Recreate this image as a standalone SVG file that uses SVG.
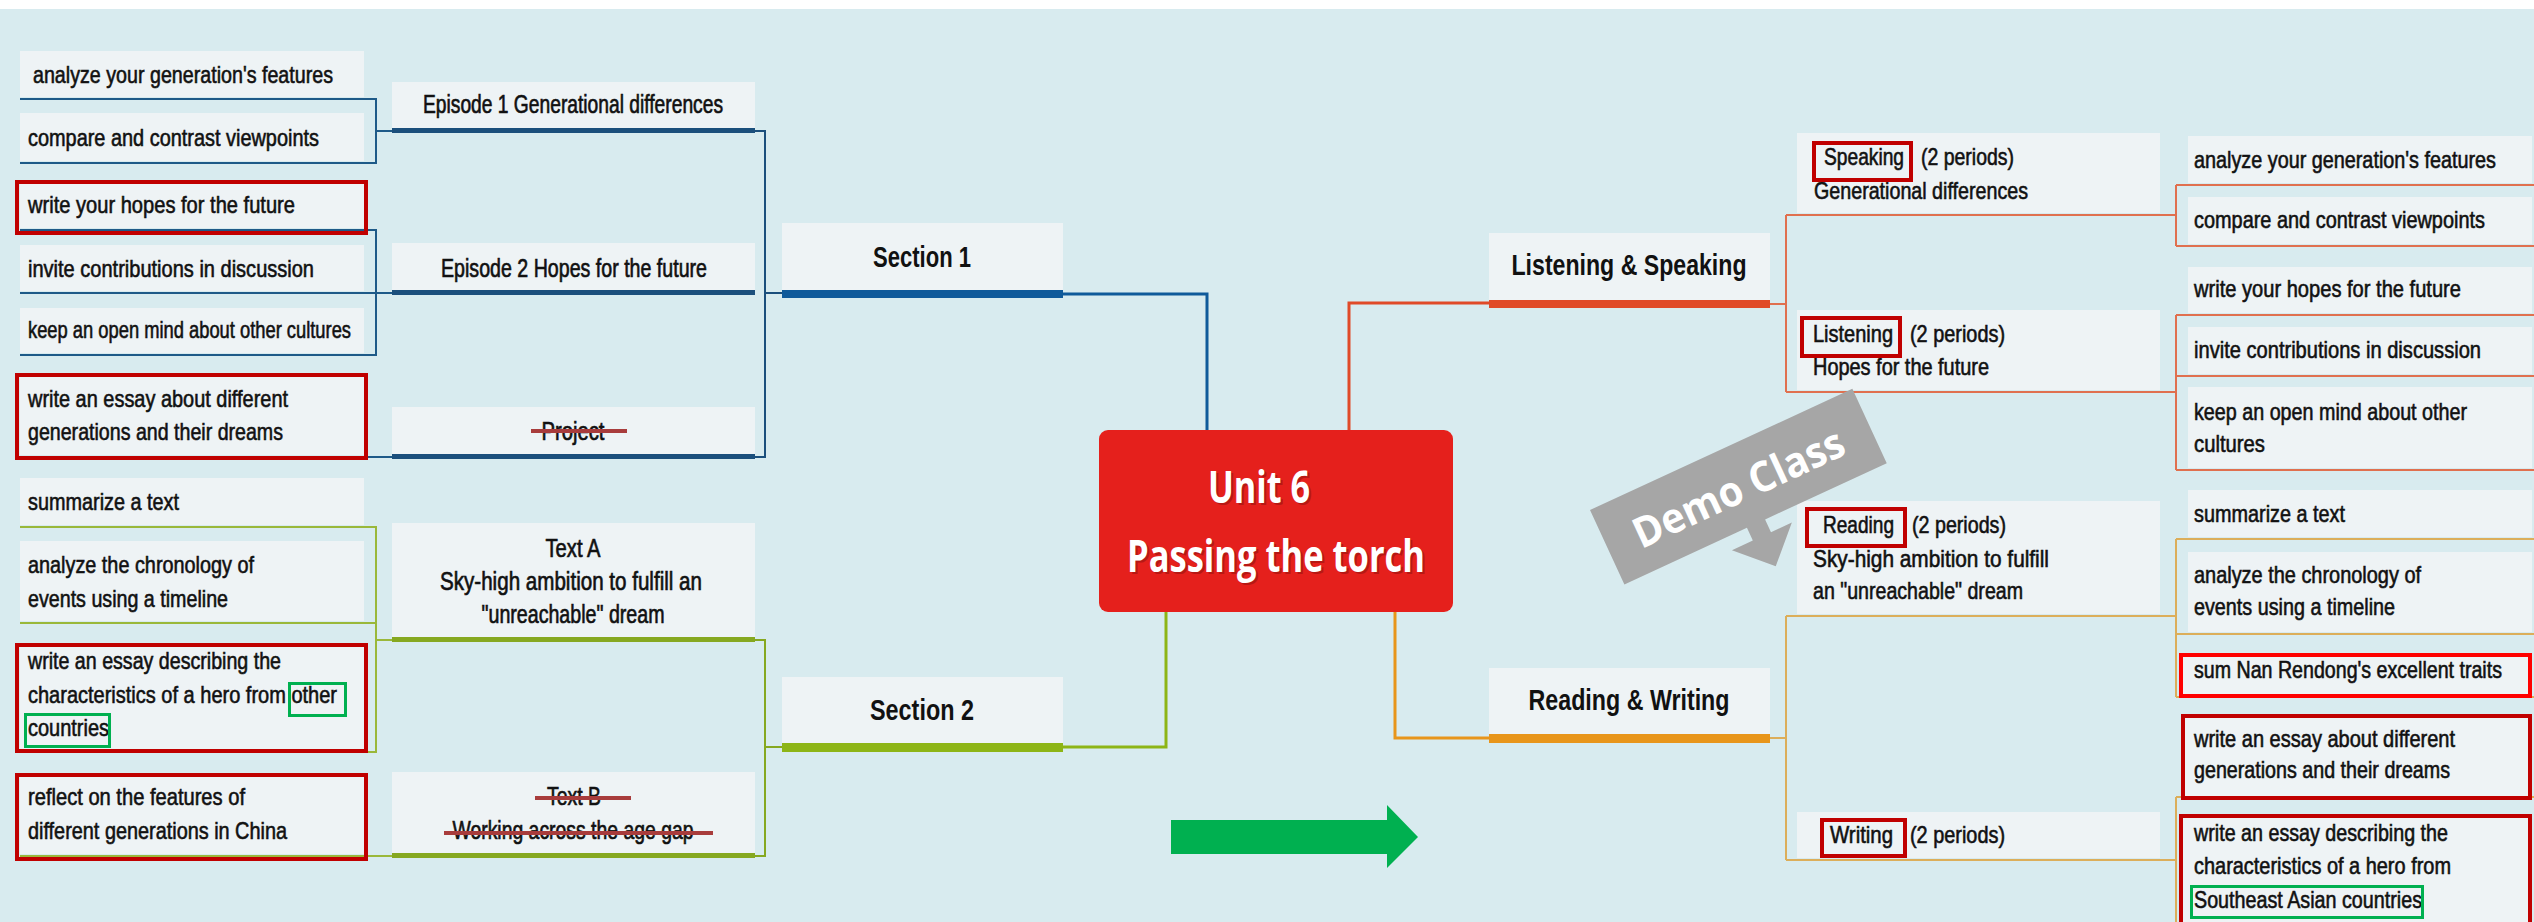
<svg xmlns="http://www.w3.org/2000/svg" width="2534" height="922" viewBox="0 0 2534 922">
<style>
.box{fill:#eef3f5}
.t{font-family:"Liberation Sans Narrow","Liberation Sans",Arial,sans-serif;font-size:24px;fill:#111;stroke:#111;stroke-width:0.6}
.ep{font-family:"Liberation Sans Narrow","Liberation Sans",Arial,sans-serif;font-size:25px;fill:#111;stroke:#111;stroke-width:0.65;text-anchor:middle}
.tb{font-family:"Liberation Sans Narrow","Liberation Sans",Arial,sans-serif;font-size:30px;font-weight:bold;fill:#111;text-anchor:middle}
.hl{fill:none;stroke:#c00000;stroke-width:4}
.hg{fill:none;stroke:#00b050;stroke-width:3}
.strike{stroke:#a83c3c;stroke-width:4}
.cb{fill:none;stroke:#1e5a88;stroke-width:2}
.cg{fill:none;stroke:#9ab83a;stroke-width:2}
.co{fill:none;stroke:#e0704f;stroke-width:2}
.cy{fill:none;stroke:#dcae5a;stroke-width:2}
.title{font-family:"Open Sans","Liberation Sans",Arial,sans-serif;font-size:44px;font-weight:bold}
</style>
<rect x="0" y="0" width="2534" height="922" fill="#d8ebef"/>
<rect x="0" y="0" width="2534" height="9" fill="#ffffff"/>

<g id="connectors">
  <path class="cb" d="M20,99 H376 V163 H20 M376,131 H392 M20,230 H376 V355 H20 M20,293 H392 M20,457 H392"/>
  <path fill="none" stroke="#1b4f7c" stroke-width="2" d="M755,131 H765 V457 H755 M765,293 H783"/>
  <path fill="none" stroke="#0f5a9a" stroke-width="3" d="M1063,294 H1207 V430"/>
  <path class="cg" d="M20,527 H376 V752 H20 M20,623 H376 M376,640 H392 M20,856 H392"/>
  <path fill="none" stroke="#86a820" stroke-width="2" d="M755,640 H765 V856 H755 M765,747 H783"/>
  <path fill="none" stroke="#8db516" stroke-width="3" d="M1063,747 H1166 V612"/>
  <path fill="none" stroke="#e04a28" stroke-width="3" d="M1349,430 V303 H1489"/>
  <path class="co" d="M1770,304 H1786 M1786,215 V392 M1786,215 H2176 M1786,392 H2176 M2176,185 V246 M2176,185 H2534 M2176,246 H2534 M2176,315 V470 M2176,315 H2534 M2176,376 H2534 M2176,470 H2534"/>
  <path fill="none" stroke="#e8951a" stroke-width="3" d="M1395,612 V738 H1489"/>
  <path class="cy" d="M1770,738 H1786 M1786,616 V860 M1786,616 H2176 M1786,860 H2176 M2176,539 V697 M2176,539 H2534 M2176,634 H2534 M2176,697 H2534 M2176,797 V922 M2176,797 H2534"/>
</g>

<g id="leaf-l1"><rect class="box" x="20" y="51" width="344" height="46"/><text class="t" x="33" y="83" textLength="300" lengthAdjust="spacingAndGlyphs">analyze your generation's features</text></g>
<g id="leaf-l2"><rect class="box" x="20" y="113" width="344" height="48"/><text class="t" x="28" y="146" textLength="291" lengthAdjust="spacingAndGlyphs">compare and contrast viewpoints</text></g>
<g id="leaf-l3"><rect class="box" x="20" y="184" width="344" height="44"/><text class="t" x="28" y="213" textLength="267" lengthAdjust="spacingAndGlyphs">write your hopes for the future</text><rect class="hl" x="17" y="182" width="349" height="51"/></g>
<g id="leaf-l4"><rect class="box" x="20" y="245" width="344" height="46"/><text class="t" x="28" y="277" textLength="286" lengthAdjust="spacingAndGlyphs">invite contributions in discussion</text></g>
<g id="leaf-l5"><rect class="box" x="20" y="308" width="344" height="45"/><text class="t" x="28" y="338" textLength="323" lengthAdjust="spacingAndGlyphs">keep an open mind about other cultures</text></g>
<g id="leaf-l6"><rect class="box" x="20" y="376" width="344" height="79"/><text class="t" x="28" y="407" textLength="260" lengthAdjust="spacingAndGlyphs">write an essay about different</text><text class="t" x="28" y="440" textLength="255" lengthAdjust="spacingAndGlyphs">generations and their dreams</text><rect class="hl" x="17" y="375" width="349" height="83"/></g>
<g id="leaf-l7"><rect class="box" x="20" y="478" width="344" height="47"/><text class="t" x="28" y="510" textLength="151" lengthAdjust="spacingAndGlyphs">summarize a text</text></g>
<g id="leaf-l8"><rect class="box" x="20" y="541" width="344" height="80"/><text class="t" x="28" y="573" textLength="226" lengthAdjust="spacingAndGlyphs">analyze the chronology of</text><text class="t" x="28" y="607" textLength="200" lengthAdjust="spacingAndGlyphs">events using a timeline</text></g>
<g id="leaf-l9"><rect class="box" x="20" y="645" width="344" height="105"/><text class="t" x="28" y="669" textLength="253" lengthAdjust="spacingAndGlyphs">write an essay describing the</text><text class="t" x="28" y="703" textLength="309" lengthAdjust="spacingAndGlyphs">characteristics of a hero from other</text><text class="t" x="28" y="736" textLength="81" lengthAdjust="spacingAndGlyphs">countries</text><rect class="hl" x="17" y="645" width="349" height="106"/><rect class="hg" x="289.5" y="683.5" width="56" height="32"/><rect class="hg" x="25.5" y="714.5" width="84" height="32"/></g>
<g id="leaf-l10"><rect class="box" x="20" y="776" width="344" height="78"/><text class="t" x="28" y="805" textLength="217" lengthAdjust="spacingAndGlyphs">reflect on the features of</text><text class="t" x="28" y="839" textLength="259" lengthAdjust="spacingAndGlyphs">different generations in China</text><rect class="hl" x="17" y="775" width="349" height="84"/></g>

<g id="episode-1"><rect class="box" x="392" y="82" width="363" height="47"/><rect x="392" y="128" width="363" height="5" fill="#1b4f7c"/><text class="ep" x="573" y="113" textLength="300" lengthAdjust="spacingAndGlyphs">Episode 1 Generational differences</text></g>
<g id="episode-2"><rect class="box" x="392" y="243" width="363" height="48"/><rect x="392" y="290" width="363" height="5" fill="#1b4f7c"/><text class="ep" x="574" y="277" textLength="266" lengthAdjust="spacingAndGlyphs">Episode 2 Hopes for the future</text></g>
<g id="project"><rect class="box" x="392" y="407" width="363" height="48"/><rect x="392" y="454" width="363" height="5" fill="#1b4f7c"/><text class="ep" x="573" y="440" textLength="63" lengthAdjust="spacingAndGlyphs">Project</text><line class="strike" x1="531" y1="431" x2="627" y2="431"/></g>
<g id="text-a"><rect class="box" x="392" y="523" width="363" height="115"/><rect x="392" y="637" width="363" height="5" fill="#86a820"/><text class="ep" x="573" y="557" textLength="55" lengthAdjust="spacingAndGlyphs">Text A</text><text class="ep" x="571" y="590" textLength="262" lengthAdjust="spacingAndGlyphs">Sky-high ambition to fulfill an</text><text class="ep" x="573" y="623" textLength="183" lengthAdjust="spacingAndGlyphs">"unreachable" dream</text></g>
<g id="text-b"><rect class="box" x="392" y="772" width="363" height="82"/><rect x="392" y="853" width="363" height="5" fill="#86a820"/><text class="ep" x="574" y="805" textLength="54" lengthAdjust="spacingAndGlyphs">Text B</text><text class="ep" x="573" y="839" textLength="241" lengthAdjust="spacingAndGlyphs">Working across the age gap</text><line class="strike" x1="535" y1="798" x2="631" y2="798"/><line class="strike" x1="444" y1="833" x2="713" y2="833"/></g>

<g id="section-1"><rect class="box" x="782" y="223" width="281" height="67"/><rect x="782" y="290" width="281" height="8" fill="#0f5a9a"/><text class="tb" x="922" y="267" textLength="98" lengthAdjust="spacingAndGlyphs">Section 1</text></g>
<g id="section-2"><rect class="box" x="782" y="677" width="281" height="66"/><rect x="782" y="743" width="281" height="9" fill="#8db516"/><text class="tb" x="922" y="720" textLength="104" lengthAdjust="spacingAndGlyphs">Section 2</text></g>

<g id="center">
  <rect x="1099" y="430" width="354" height="182" rx="9" fill="#e5201c"/>
  <text class="title" x="1210" y="505" fill="#9a1410" opacity="0.6" textLength="102" lengthAdjust="spacingAndGlyphs">Unit 6</text>
  <text class="title" x="1129" y="574" fill="#9a1410" opacity="0.6" textLength="298" lengthAdjust="spacingAndGlyphs">Passing the torch</text>
  <text class="title" x="1208" y="503" fill="#ffffff" textLength="102" lengthAdjust="spacingAndGlyphs">Unit 6</text>
  <text class="title" x="1127" y="572" fill="#ffffff" textLength="298" lengthAdjust="spacingAndGlyphs">Passing the torch</text>
</g>

<g id="green-arrow"><polygon points="1171,820 1387,820 1387,805 1418,837 1387,868 1387,854 1171,854" fill="#00b050"/></g>

<g id="listening-speaking"><rect class="box" x="1489" y="233" width="281" height="67"/><rect x="1489" y="300" width="281" height="8" fill="#e04a28"/><text class="tb" x="1629" y="275" textLength="235" lengthAdjust="spacingAndGlyphs">Listening &amp; Speaking</text></g>
<g id="speaking"><rect class="box" x="1797" y="133" width="363" height="80"/><text class="t" x="1824" y="165" textLength="80" lengthAdjust="spacingAndGlyphs">Speaking</text><text class="t" x="1921" y="165" textLength="93" lengthAdjust="spacingAndGlyphs">(2 periods)</text><text class="t" x="1814" y="199" textLength="214" lengthAdjust="spacingAndGlyphs">Generational differences</text><rect class="hl" x="1814" y="143" width="97" height="37"/></g>
<g id="listening"><rect class="box" x="1797" y="310" width="363" height="80"/><text class="t" x="1813" y="342" textLength="80" lengthAdjust="spacingAndGlyphs">Listening</text><text class="t" x="1910" y="342" textLength="95" lengthAdjust="spacingAndGlyphs">(2 periods)</text><text class="t" x="1813" y="375" textLength="176" lengthAdjust="spacingAndGlyphs">Hopes for the future</text><rect class="hl" x="1802" y="318" width="98" height="38"/></g>
<g id="leaf-r1"><rect class="box" x="2188" y="136" width="344" height="47"/><text class="t" x="2194" y="168" textLength="302" lengthAdjust="spacingAndGlyphs">analyze your generation's features</text></g>
<g id="leaf-r2"><rect class="box" x="2188" y="197" width="344" height="47"/><text class="t" x="2194" y="228" textLength="291" lengthAdjust="spacingAndGlyphs">compare and contrast viewpoints</text></g>
<g id="leaf-r3"><rect class="box" x="2188" y="267" width="344" height="46"/><text class="t" x="2194" y="297" textLength="267" lengthAdjust="spacingAndGlyphs">write your hopes for the future</text></g>
<g id="leaf-r4"><rect class="box" x="2188" y="327" width="344" height="47"/><text class="t" x="2194" y="358" textLength="287" lengthAdjust="spacingAndGlyphs">invite contributions in discussion</text></g>
<g id="leaf-r5"><rect class="box" x="2188" y="387" width="344" height="81"/><text class="t" x="2194" y="420" textLength="273" lengthAdjust="spacingAndGlyphs">keep an open mind about other</text><text class="t" x="2194" y="452" textLength="71" lengthAdjust="spacingAndGlyphs">cultures</text></g>

<g id="reading-writing"><rect class="box" x="1489" y="668" width="281" height="66"/><rect x="1489" y="734" width="281" height="9" fill="#e8951a"/><text class="tb" x="1629" y="710" textLength="201" lengthAdjust="spacingAndGlyphs">Reading &amp; Writing</text></g>
<g id="reading"><rect class="box" x="1797" y="501" width="363" height="113"/><text class="t" x="1823" y="533" textLength="71" lengthAdjust="spacingAndGlyphs">Reading</text><text class="t" x="1912" y="533" textLength="94" lengthAdjust="spacingAndGlyphs">(2 periods)</text><text class="t" x="1813" y="567" textLength="236" lengthAdjust="spacingAndGlyphs">Sky-high ambition to fulfill</text><text class="t" x="1813" y="599" textLength="210" lengthAdjust="spacingAndGlyphs">an "unreachable" dream</text><rect class="hl" x="1807" y="509" width="98" height="37"/></g>
<g id="writing"><rect class="box" x="1797" y="812" width="363" height="46"/><text class="t" x="1830" y="843" textLength="63" lengthAdjust="spacingAndGlyphs">Writing</text><text class="t" x="1910" y="843" textLength="95" lengthAdjust="spacingAndGlyphs">(2 periods)</text><rect class="hl" x="1822" y="820" width="83" height="36"/></g>
<g id="leaf-r6"><rect class="box" x="2188" y="490" width="344" height="47"/><text class="t" x="2194" y="522" textLength="151" lengthAdjust="spacingAndGlyphs">summarize a text</text></g>
<g id="leaf-r7"><rect class="box" x="2188" y="552" width="344" height="80"/><text class="t" x="2194" y="583" textLength="227" lengthAdjust="spacingAndGlyphs">analyze the chronology of</text><text class="t" x="2194" y="615" textLength="201" lengthAdjust="spacingAndGlyphs">events using a timeline</text></g>
<g id="leaf-r8"><rect class="box" x="2183" y="657" width="347" height="38"/><text class="t" x="2194" y="678" textLength="308" lengthAdjust="spacingAndGlyphs">sum Nan Rendong's excellent traits</text><rect x="2181" y="655" width="349" height="41" fill="none" stroke="#ff0000" stroke-width="4"/></g>
<g id="leaf-r9"><rect class="box" x="2185" y="718" width="345" height="78"/><text class="t" x="2194" y="747" textLength="261" lengthAdjust="spacingAndGlyphs">write an essay about different</text><text class="t" x="2194" y="778" textLength="256" lengthAdjust="spacingAndGlyphs">generations and their dreams</text><rect class="hl" x="2183" y="716" width="347" height="82"/></g>
<g id="leaf-r10"><rect class="box" x="2183" y="818" width="347" height="110"/><text class="t" x="2194" y="841" textLength="254" lengthAdjust="spacingAndGlyphs">write an essay describing the</text><text class="t" x="2194" y="874" textLength="257" lengthAdjust="spacingAndGlyphs">characteristics of a hero from</text><text class="t" x="2194" y="908" textLength="228" lengthAdjust="spacingAndGlyphs">Southeast Asian countries</text><rect class="hl" x="2181" y="816" width="349" height="112"/><rect class="hg" x="2191.5" y="886.5" width="231" height="31"/></g>

<g id="demo-class" transform="translate(1590,510) rotate(-24.8)">
  <path d="M0,0 H289 V82 H155 V96 H178 L145,129 L112,96 H135 V82 H0 Z" fill="#a6a6a6"/>
  <text x="144" y="57" font-family="'Open Sans','Liberation Sans',Arial,sans-serif" font-size="42" font-weight="bold" fill="#ffffff" text-anchor="middle" textLength="228" lengthAdjust="spacingAndGlyphs">Demo Class</text>
</g>
</svg>
